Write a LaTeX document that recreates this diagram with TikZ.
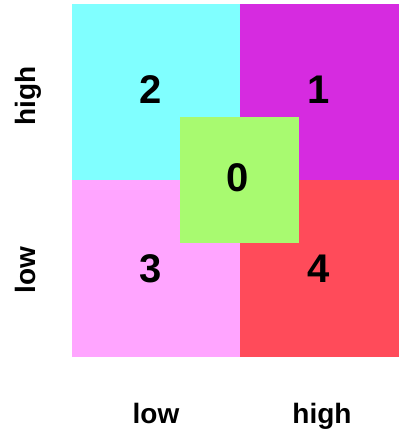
\documentclass[tikz,border=0pt]{standalone}
\usepackage{fontspec}
\setmainfont{Liberation Sans}
\definecolor{cq}{HTML}{80FFFF}
\definecolor{mq}{HTML}{D62BE0}
\definecolor{pq}{HTML}{FFA5FF}
\definecolor{rq}{HTML}{FF4B5A}
\definecolor{gq}{HTML}{A8FA70}
\begin{document}
\begin{tikzpicture}[x=1pt,y=-1pt,
  digit/.style={inner sep=0pt,font=\fontsize{40}{40}\selectfont\bfseries},
  axlab/.style={inner sep=0pt,anchor=base,font=\fontsize{28}{28}\selectfont\bfseries}]
\useasboundingbox (0,0) rectangle (399,430);
\fill[white] (0,0) rectangle (399,430);
\fill[cq] (72,4) rectangle (240,180);
\fill[mq] (240,4) rectangle (399,180);
\fill[pq] (72,180) rectangle (240,357);
\fill[rq] (240,180) rectangle (399,357);
\fill[gq] (180,117) rectangle (299,243);
\node[digit] (n2) at (151,90) {2};
\node[digit] (n1) at (319,90) {1};
\node[digit] (n0) at (237.5,178) {0};
\node[digit] (n3) at (151,269) {3};
\node[digit] (n4) at (319,269) {4};
\node[axlab] (xl) at (156,423) {low};
\node[axlab] (xh) at (322,423) {high};
\node[axlab,rotate=90] (yh) at (35,96) {high};
\node[axlab,rotate=90] (yl) at (35,270) {low};
\end{tikzpicture}
\end{document}
